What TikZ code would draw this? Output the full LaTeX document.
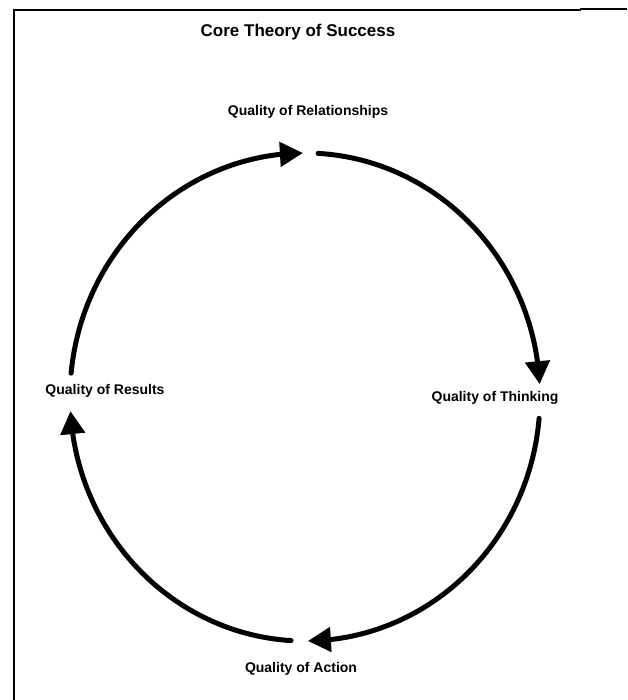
\documentclass[tikz,border=0pt]{standalone}
\usepackage{fontspec}
\setmainfont{Liberation Sans}
\usetikzlibrary{arrows.meta,bending}
\begin{document}
\begin{tikzpicture}[
  x=1pt, y=1pt,
  label/.style={font=\fontsize{14}{16}\selectfont\bfseries, align=center},
  heading/.style={font=\fontsize{17}{20}\selectfont\bfseries},
  cycle/.style={line width=5pt, line cap=round, -{Triangle[length=23pt,width=24pt,flex]}}
]
\useasboundingbox (0,0) rectangle (627,700);
\draw[line width=1.2pt] (14,0) -- (14,690) -- (581,690);
\draw[line width=2pt] (580,690.5) -- (627,690.5);

\node[heading] (title) at (298,668) {Core Theory of Success};
\node[label] (rel) at (308,588) {Quality of Relationships};
\node[label] (think) at (495,302) {Quality of Thinking};
\node[label] (action) at (301,31) {Quality of Action};
\node[label] (results) at (105,309) {Quality of Results};

\coordinate (res_out) at (71.1,326.8);
\coordinate (rel_out) at (318.1,546.6);
\coordinate (think_out) at (539.1,281.7);
\coordinate (act_out) at (291.1,59.4);

\draw[cycle] (res_out) arc[start angle=174.4, end angle=90.5, x radius=235pt, y radius=244pt];
\draw[cycle] (rel_out) arc[start angle=86.8, end angle=3, x radius=235pt, y radius=244pt];
\draw[cycle] (think_out) arc[start angle=-5, end angle=-89.3, x radius=235pt, y radius=244pt];
\draw[cycle] (act_out) arc[start angle=266.6, end angle=183.3, x radius=235pt, y radius=244pt];
\end{tikzpicture}
\end{document}
